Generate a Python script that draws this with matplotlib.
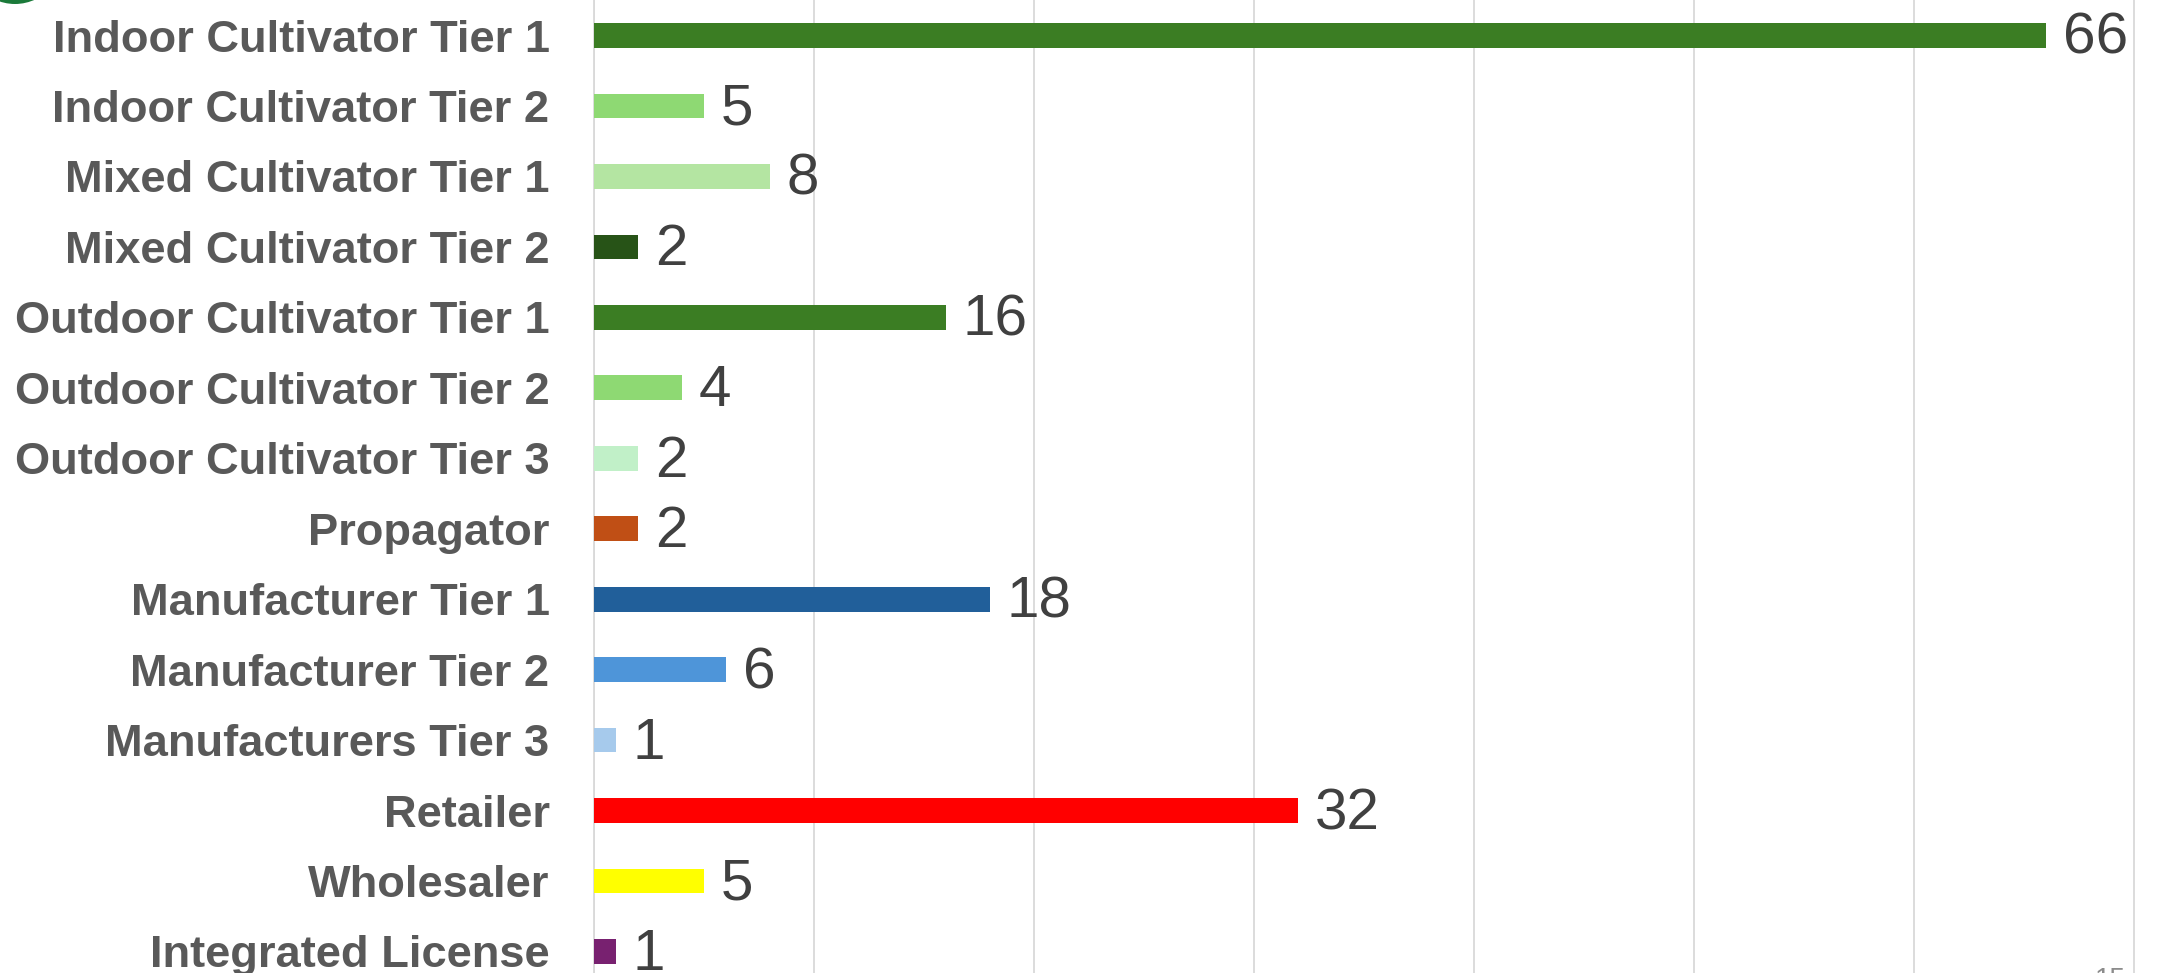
import matplotlib
matplotlib.use("Agg")
import matplotlib.pyplot as plt
from matplotlib.patches import Ellipse

# licence categories, top to bottom
categories = [
    "Indoor Cultivator Tier 1",
    "Indoor Cultivator Tier 2",
    "Mixed Cultivator Tier 1",
    "Mixed Cultivator Tier 2",
    "Outdoor Cultivator Tier 1",
    "Outdoor Cultivator Tier 2",
    "Outdoor Cultivator Tier 3",
    "Propagator",
    "Manufacturer Tier 1",
    "Manufacturer Tier 2",
    "Manufacturers Tier 3",
    "Retailer",
    "Wholesaler",
    "Integrated License",
]
counts = [66, 5, 8, 2, 16, 4, 2, 2, 18, 6, 1, 32, 5, 1]
bar_colors = [
    "#3b7d23", "#8ed973", "#b4e5a2", "#275317",
    "#3b7d23", "#8ed973", "#c1f0c8",
    "#c04f15",
    "#215f9a", "#4e95d9", "#a6caec",
    "#ff0000", "#ffff00", "#782170",
]
grid_ticks = [0, 10, 20, 30, 40, 50, 60, 70]

W, H = 2162, 973
fig = plt.figure(figsize=(W / 100, H / 100), dpi=100)
fig.patch.set_facecolor("white")

# axes start at the value axis line; chart is cropped on the right and bottom
ax_left = 594
ax = fig.add_axes([ax_left / W, 0, 1 - ax_left / W, 1])
px_per_unit = 22.0
ax.set_xlim(0, (W - ax_left) / px_per_unit)

row0, row_step = 35.5, 70.46
ax.set_ylim((H - row0) / row_step, -row0 / row_step)

ypos = list(range(len(categories)))
ax.barh(ypos, counts, height=0.35, color=bar_colors, zorder=3)

for y, v in zip(ypos, counts):
    ax.annotate(str(v), xy=(v, y), xytext=(12, -2.5), textcoords="offset points",
                va="center", ha="left", fontsize=42, color="#404040",
                family="Liberation Sans", zorder=4)

ax.set_xticks(grid_ticks)
ax.tick_params(axis="x", length=0, labelbottom=False)
ax.grid(axis="x", color="#d9d9d9", linewidth=1.3, zorder=0)
ax.set_yticks(ypos)
ax.set_yticklabels(categories, fontsize=32.6, fontweight="bold",
                   color="#595959", family="Liberation Sans")
ax.tick_params(axis="y", length=0, pad=32)
for s in ["top", "right", "bottom"]:
    ax.spines[s].set_visible(False)
ax.spines["left"].set_color("#d9d9d9")
ax.spines["left"].set_linewidth(1.3)

# slide decoration in the corner and the cut-off slide number
fig.add_artist(Ellipse((15 / W, 1 + 60 / H), 110 / W, 128 / H,
                       transform=fig.transFigure, facecolor="#1b7a3a",
                       edgecolor="none", clip_on=False))
fig.text(2095 / W, 6 / H, "15", fontsize=20, color="#8c8c8c",
         family="Liberation Sans", va="top", ha="left")

fig.savefig("out.png", dpi=100, facecolor="white")
